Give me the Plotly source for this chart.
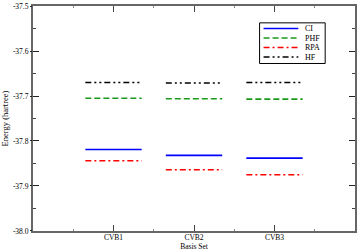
import plotly.graph_objects as go

categories = ["CVB1", "CVB2", "CVB3"]
ci = [-37.819, -37.832, -37.838]
phf = [-37.705, -37.706, -37.707]
rpa = [-37.844, -37.864, -37.875]
hf = [-37.670, -37.671, -37.670]
ytick_vals = [-38.0, -37.9, -37.8, -37.7, -37.6, -37.5]
ytick_text = ["-38.0", "-37.9", "-37.8", "-37.7", "-37.6", "-37.5"]

series = [
    ("CI", ci, "#0000ff", "solid"),
    ("PHF", phf, "#1a9a1a", "6px,3px"),
    ("RPA", rpa, "#ff0000", "6px,3px,2px,3px"),
    ("HF", hf, "#000000", "6px,3px,2px,3px,2px,3px"),
]

font = "Liberation Serif, Times New Roman, serif"
axcol = "#666666"

half = 0.35
fig = go.Figure()
for name, vals, color, dash in series:
    xs, ys = [], []
    for i, v in enumerate(vals):
        c = i + 1
        xs += [c - half, c + half, None]
        ys += [v, v, None]
    fig.add_trace(go.Scatter(x=xs, y=ys, mode="lines", name=name,
                             showlegend=False, hoverinfo="skip",
                             line=dict(color=color, width=1.6, dash=dash)))

# dummy trace to host outside left ticks
fig.add_trace(go.Scatter(x=[None], y=[None], yaxis="y2", showlegend=False))

# custom compact legend (paper coordinates)
W, H, L, B = 359, 251, 33, 20
pw, ph = W - L - 2, 227
def px(x):
    return (x - L) / pw
def py(y):
    return (H - B - y) / ph

shapes = [dict(type="rect", xref="paper", yref="paper",
               x0=px(261), x1=px(327), y0=py(62), y1=py(21),
               line=dict(color="black", width=1), fillcolor="white", layer="above")]
annotations = []
rows = [26.7, 36.3, 45.9, 55.5]
for (name, vals, color, dash), ry in zip(series, rows):
    shapes.append(dict(type="line", xref="paper", yref="paper",
                       x0=px(265), x1=px(300), y0=py(ry), y1=py(ry),
                       line=dict(color=color, width=1.6, dash=dash), layer="above"))
    annotations.append(dict(text=name, xref="paper", yref="paper",
                            x=px(305), y=py(ry), xanchor="left", yanchor="middle",
                            showarrow=False, font=dict(family=font, size=8)))

fig.update_layout(
    width=W, height=H,
    margin=dict(l=L, r=2, t=4, b=B),
    paper_bgcolor="white", plot_bgcolor="white",
    font=dict(family=font, size=8, color="black"),
    showlegend=False, hovermode=False,
    shapes=shapes, annotations=annotations,
    xaxis=dict(range=[0, 4], tickmode="array", tickvals=[1, 2, 3],
               ticktext=categories, ticks="inside", ticklen=6, tickwidth=1,
               tickcolor="#444444",
               minor=dict(tickmode="array", tickvals=[0.5, 1.5, 2.5, 3.5],
                          ticks="inside", ticklen=2, tickcolor="#888888"),
               showline=True, linecolor=axcol, linewidth=2, mirror="ticks",
               showgrid=False, zeroline=False, ticklabelstandoff=-2,
               tickfont=dict(family=font, size=7.5),
               title=dict(text="Basis Set", font=dict(family=font, size=7.5),
                          standoff=1)),
    yaxis=dict(range=[-38.0001, -37.4999], tickmode="array",
               tickvals=ytick_vals, ticktext=ytick_text,
               ticks="inside", ticklen=6, tickwidth=1, tickcolor="#222222",
               minor=dict(tickmode="linear", tick0=-38.0, dtick=0.05,
                          ticks="inside", ticklen=3, tickcolor="#444444"),
               showline=True, linecolor=axcol, linewidth=2, mirror="ticks",
               showgrid=False, zeroline=False, ticklabelstandoff=1,
               ticklabeloverflow="allow",
               tickfont=dict(family=font, size=7.5),
               title=dict(text="Energy (hartree)", font=dict(family=font, size=8.5),
                          standoff=4)),
    yaxis2=dict(range=[-38.0001, -37.4999], tickmode="array", tickvals=ytick_vals,
                overlaying="y", side="left", ticks="outside", ticklen=2,
                tickwidth=1, tickcolor="#222222", showticklabels=False,
                showline=False, showgrid=False, zeroline=False),
)

fig.write_html("out.html", config={"displayModeBar": False, "staticPlot": True},
               post_script="document.body.style.margin='0';document.body.style.overflow='hidden';")
